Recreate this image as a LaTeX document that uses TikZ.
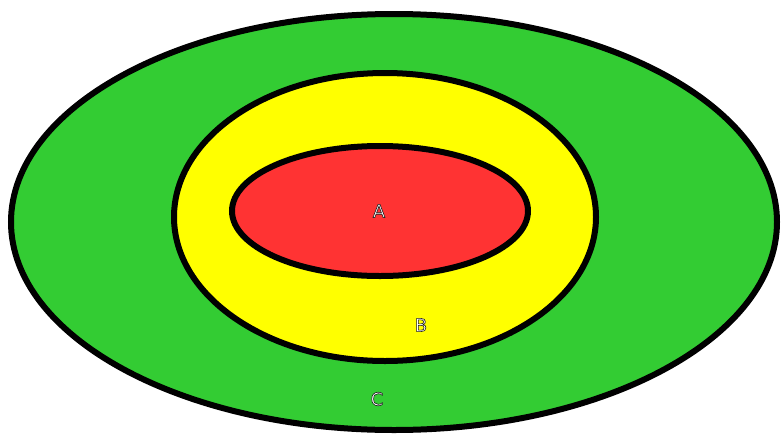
\documentclass[tikz,border=0pt]{standalone}
\usepackage{fontspec}
\setmainfont{DejaVu Sans}
\definecolor{cgreen}{HTML}{33CC33}
\definecolor{cyellow}{HTML}{FFFF00}
\definecolor{cred}{HTML}{FF3333}
\newcommand{\outl}[1]{\special{pdf:literal 2 Tr 0.6 w 0.1 0.1 0.1 RG 1 1 1 rg}#1\special{pdf:literal 0 Tr}}
\begin{document}
\begin{tikzpicture}[x=1pt,y=-1pt,
  ring/.style={draw=black,line width=6pt},
  lbl/.style={text=white,font=\fontsize{18}{18}\selectfont,inner sep=0pt}]
\useasboundingbox (0,0) rectangle (782,437);
\fill[white] (0,0) rectangle (782,437);
\path[ring,fill=cgreen] (394,222) ellipse [x radius=383, y radius=208];
\path[ring,fill=cyellow] (385,217) ellipse [x radius=211, y radius=144];
\path[ring,fill=cred] (380,211) ellipse [x radius=148, y radius=65];
\node[lbl] (A) at (379,211) {\outl{A}};
\node[lbl] (B) at (421,325) {\outl{B}};
\node[lbl] (C) at (377,399) {\outl{C}};
\end{tikzpicture}
\end{document}
